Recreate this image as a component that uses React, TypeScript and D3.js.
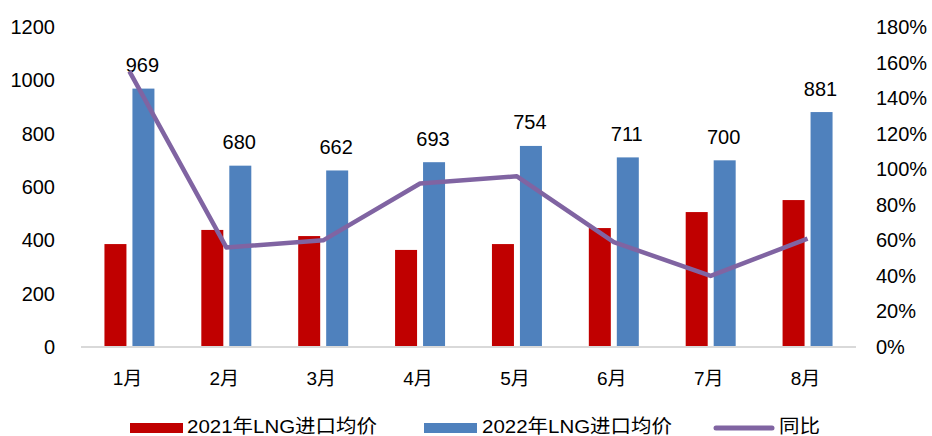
import React from "react";
import * as d3 from "d3";

const months = ["1月", "2月", "3月", "4月", "5月", "6月", "7月", "8月"];
const price2021 = [386, 439, 416, 364, 386, 446, 506, 551];
const price2022 = [969, 680, 662, 693, 754, 711, 700, 881];
const yoy = [1.55, 0.56, 0.6, 0.92, 0.96, 0.59, 0.4, 0.61];
const leftTicks = [0, 200, 400, 600, 800, 1000, 1200];
const rightTicks = [0, 0.2, 0.4, 0.6, 0.8, 1.0, 1.2, 1.4, 1.6, 1.8];
const legendLabels = ["2021年LNG进口均价", "2022年LNG进口均价", "同比"];

const W = 932;
const H = 436;
const RED = "#C00000";
const BLUE = "#4F81BD";
const PURPLE = "#8064A2";
const FONT = "'Liberation Sans', Arial, 'Noto Sans CJK SC', sans-serif";

export default function App() {
  const x0 = d3
    .scaleBand<string>()
    .domain(months)
    .range([81, 856])
    .paddingInner(0.484)
    .paddingOuter(0.242);
  const x1 = d3
    .scaleBand<string>()
    .domain(["a", "b"])
    .range([0, x0.bandwidth()])
    .paddingInner(0.214);
  const y = d3.scaleLinear().domain([0, 1200]).range([347, 27]);
  const y2 = d3.scaleLinear().domain([0, 1.8]).range([347, 27]);
  const line = d3
    .line<number>()
    .x((_, i) => (x0(months[i]) as number) + x0.bandwidth() / 2)
    .y((d) => y2(d));

  return (
    <svg
      width={W}
      height={H}
      style={{ position: "absolute", left: 0, top: 0, background: "#fff" }}
      fontFamily={FONT}
    >
      <rect width={W} height={H} fill="#fff" />
      {/* left axis ticks */}
      {leftTicks.map((t) => (
        <text key={"l" + t} x={55} y={y(t)} dy="0.35em" textAnchor="end" fontSize={20} fill="#000">
          {t}
        </text>
      ))}
      {rightTicks.map((t) => (
        <text key={"r" + t} x={876} y={y2(t)} dy="0.35em" textAnchor="start" fontSize={20} fill="#000">
          {d3.format(".0%")(t)}
        </text>
      ))}
      {/* bars */}
      {months.map((m, i) => (
        <g key={m} transform={`translate(${x0(m)},0)`}>
          <rect x={x1("a")} y={y(price2021[i])} width={x1.bandwidth()} height={y(0) - y(price2021[i])} fill={RED} />
          <rect x={x1("b")} y={y(price2022[i])} width={x1.bandwidth()} height={y(0) - y(price2022[i])} fill={BLUE} />
          <text
            x={(x1("b") as number) + x1.bandwidth() / 2 - 1}
            y={y(price2022[i]) - 16.5}
            textAnchor="middle"
            fontSize={20}
            fill="#000"
          >
            {price2022[i]}
          </text>
        </g>
      ))}
      {/* axis line */}
      <line x1={81} x2={856} y1={y(0)} y2={y(0)} stroke="#d9d9d9" strokeWidth={2} />
      {/* category labels */}
      {months.map((m) => (
        <text key={"c" + m} x={(x0(m) as number) + x0.bandwidth() / 2 - 2} y={385} textAnchor="middle" fontSize={19} fill="#000">
          {m}
        </text>
      ))}
      {/* yoy line */}
      <path d={line(yoy) || ""} fill="none" stroke={PURPLE} strokeWidth={4.5} strokeLinejoin="round" />
      {/* legend */}
      <rect x={130} y={423} width={53} height={10} fill={RED} />
      <text x={187} y={433} fontSize={19} fill="#000" textLength={190} lengthAdjust="spacingAndGlyphs">
        {legendLabels[0]}
      </text>
      <rect x={424} y={423} width={53} height={10} fill={BLUE} />
      <text x={482} y={433} fontSize={19} fill="#000" textLength={190} lengthAdjust="spacingAndGlyphs">
        {legendLabels[1]}
      </text>
      <line x1={716} x2={772} y1={428} y2={428} stroke={PURPLE} strokeWidth={5} strokeLinecap="round" />
      <text x={779} y={433} fontSize={19} fill="#000" textLength={41} lengthAdjust="spacingAndGlyphs">
        {legendLabels[2]}
      </text>
    </svg>
  );
}
